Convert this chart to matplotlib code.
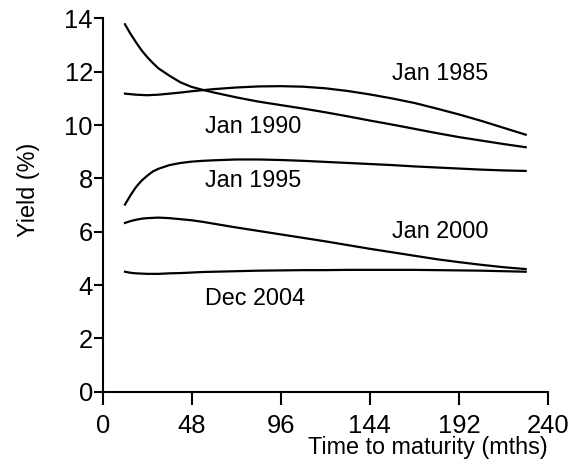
import matplotlib
matplotlib.use('Agg')
from matplotlib import pyplot as plt

# maturities in months
months = [12, 15, 18, 21, 24, 27, 30, 36, 42, 48, 54, 60, 72, 84, 96, 108, 120, 132, 144, 156, 168, 180,
          192, 204, 216, 228]

jan_1985 = [11.18, 11.16, 11.14, 11.13, 11.12, 11.13, 11.14, 11.18, 11.22, 11.27, 11.31, 11.35, 11.41,
            11.45, 11.46, 11.44, 11.38, 11.28, 11.15, 11.0, 10.83, 10.62, 10.4, 10.16, 9.9, 9.64]
jan_1990 = [13.78, 13.42, 13.1, 12.8, 12.55, 12.33, 12.13, 11.85, 11.6, 11.43, 11.32, 11.22, 11.04,
            10.88, 10.75, 10.62, 10.48, 10.33, 10.17, 10.02, 9.86, 9.7, 9.55, 9.42, 9.29, 9.17]
jan_1995 = [7.02, 7.37, 7.68, 7.92, 8.1, 8.26, 8.36, 8.5, 8.58, 8.63, 8.66, 8.68, 8.71,
            8.71, 8.69, 8.66, 8.62, 8.58, 8.54, 8.5, 8.45, 8.41, 8.37, 8.33, 8.3, 8.28]
jan_2000 = [6.33, 6.4, 6.45, 6.49, 6.51, 6.52, 6.53, 6.51, 6.47, 6.43, 6.37, 6.3, 6.16,
            6.03, 5.9, 5.77, 5.64, 5.5, 5.36, 5.23, 5.1, 4.97, 4.86, 4.76, 4.67, 4.6]
dec_2004 = [4.5, 4.46, 4.44, 4.43, 4.42, 4.42, 4.42, 4.44, 4.45, 4.47, 4.49, 4.5, 4.52,
            4.54, 4.55, 4.56, 4.56, 4.57, 4.57, 4.57, 4.57, 4.56, 4.55, 4.54, 4.52, 4.5]

series = [jan_1985, jan_1990, jan_1995, jan_2000, dec_2004]
labels = ['Jan 1985', 'Jan 1990', 'Jan 1995', 'Jan 2000', 'Dec 2004']
label_pos = [(155.7, 11.94), (55.2, 9.94), (55.2, 7.94), (155.7, 6.0), (55.2, 3.5)]

xticks = [0, 48, 96, 144, 192, 240]
yticks = [0, 2, 4, 6, 8, 10, 12, 14]

plt.rcParams['font.family'] = ['Liberation Sans', 'DejaVu Sans']
plt.rcParams['font.size'] = 16.8

fig = plt.figure(figsize=(5.78, 4.61), dpi=100)
ax = fig.add_axes([0.1777, 0.1503, 0.948 - 0.1777, 0.960 - 0.1503])

for ys in series:
    ax.plot(months, ys, color='black', linewidth=1.6)

for name, (lx, ly) in zip(labels, label_pos):
    ax.text(lx, ly, name, ha='left', va='center', fontsize=16.8)

ax.set_xlim(0, 240)
ax.set_ylim(0, 14)
ax.set_xticks(xticks)
ax.set_yticks(yticks)

ax.spines['top'].set_visible(False)
ax.spines['right'].set_visible(False)
for s in ['left', 'bottom']:
    ax.spines[s].set_linewidth(1.5)
ax.tick_params(axis='both', width=1.5, direction='out', labelsize=18.4)
ax.tick_params(axis='x', length=9.4, pad=6.5)
ax.tick_params(axis='y', length=6.5, pad=0.5)

ax.set_xlabel('Time to maturity (mths)', loc='right', labelpad=-1.5)
ax.set_ylabel('Yield (%)')
ax.yaxis.set_label_coords(-0.14, 0.54)

fig.savefig('out.png', dpi=100)
